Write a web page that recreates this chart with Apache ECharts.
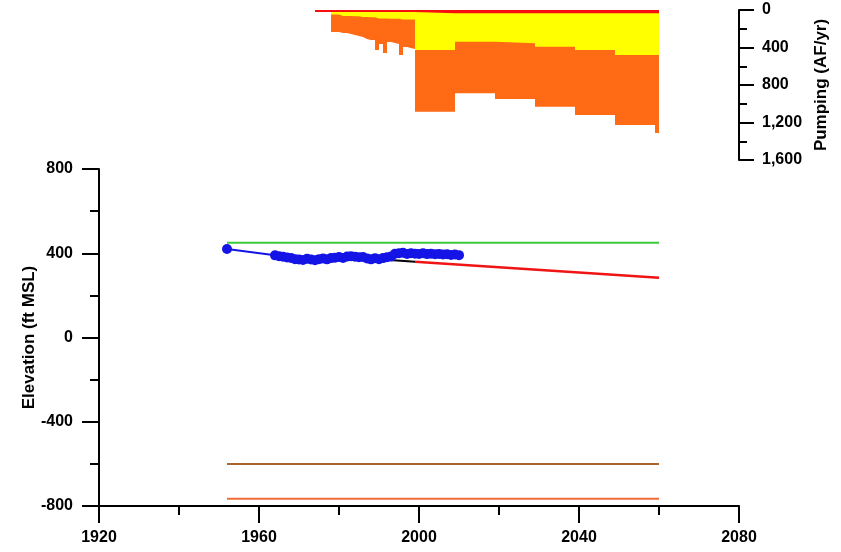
<!DOCTYPE html>
<html>
<head>
<meta charset="utf-8">
<script src="https://cdn.jsdelivr.net/npm/echarts@6/dist/echarts.min.js"></script>
<style>
html,body{margin:0;padding:0;background:#fff;}
#chart{width:841px;height:552px;}
</style>
</head>
<body>
<div id="chart"></div>
<script>
// ---- Pumping (AF/yr), step values starting at each year ----
const pumpYears = [1974,1975,1976,1977,1978,1979,1980,1981,1982,1983,1984,1985,1986,1987,1988,1989,1990,1991,1992,1993,1994,1995,1996,1997,1998,1999,2009,2019,2029,2039,2049,2059,2060];
const pumpRed    = [20,20,20,20,20,20,20,20,20,20,20,20,20,20,20,20,20,20,20,20,20,20,20,20,20,35,35,35,35,35,35,35,35];
const pumpYellow = [0,0,0,0,28,28,44,44,44,46,46,55,55,56,56,70,70,70,72,72,72,80,80,82,82,392,303,320,356,392,445,445,445];
const pumpOrange = [0,0,0,0,187,187,181,181,192,201,211,213,234,244,244,337,273,369,249,260,271,380,295,303,314,658,551,594,640,693,747,832,832];

// ---- Water level observations (ft MSL) ----
const obsYears  = [1952,1964,1965,1966,1967,1968,1969,1970,1971,1972,1973,1974,1975,1976,1977,1978,1979,1980,1981,1982,1983,1984,1985,1986,1987,1988,1989,1990,1991,1992,1993,1994,1995,1996,1997,1998,1999,2000,2001,2002,2003,2004,2005,2006,2007,2008,2009,2010];
const obsValues = [420,390,386,383,380,378,372,370,368,374,370,367,372,375,371,377,379,382,378,384,386,383,381,382,375,371,376,372,377,381,384,398,400,402,397,400,398,397,400,396,398,395,397,394,395,392,394,391];

// ---- Simulated / reference lines ----
const simHistYears = [1990,1999];
const simHistValues = [372,360];
const projYears = [1999,2060];
const projValues = [360,284];
const greenYears = [1952,2060];
const greenValues = [450,450];
const brownYears = [1952,2060];
const brownValues = [-600,-600];
const bottomYears = [1952,2060];
const bottomValues = [-765,-765];

function pairs(xs, ys){ return xs.map((x,i)=>[x, ys[i]]); }

const cumRed = pumpRed.slice();
const cumYellow = pumpRed.map((v,i)=>v + pumpYellow[i]);
const cumOrange = pumpRed.map((v,i)=>v + pumpYellow[i] + pumpOrange[i]);

const FONT = "'Liberation Sans', Arial, sans-serif";
const lblStyle = {color:'#000', fontFamily:FONT, fontWeight:'bold', fontSize:16};
const nameStyle = {color:'#000', fontFamily:FONT, fontWeight:'bold', fontSize:17};
const axLine = {show:true, onZero:false, lineStyle:{color:'#000', width:2}};

const chart = echarts.init(document.getElementById('chart'));
chart.setOption({
  animation:false,
  backgroundColor:'#fff',
  grid:[
    {left:99, right:102, top:169, bottom:46},
    {left:99, right:102, top:10, height:150}
  ],
  xAxis:[
    {gridIndex:0, type:'value', min:1920, max:2080, interval:40,
     axisLine:axLine,
     axisTick:{show:true, length:17, lineStyle:{color:'#000', width:2}},
     minorTick:{show:true, splitNumber:2, length:9, lineStyle:{color:'#000', width:2}},
     splitLine:{show:false},
     axisLabel:Object.assign({margin:24, formatter:v=>String(v)}, lblStyle)},
    {gridIndex:1, type:'value', min:1920, max:2080, show:false}
  ],
  yAxis:[
    {gridIndex:0, type:'value', min:-800, max:800, interval:400,
     axisLine:axLine,
     axisTick:{show:true, length:17, lineStyle:{color:'#000', width:2}},
     minorTick:{show:true, splitNumber:2, length:9, lineStyle:{color:'#000', width:2}},
     splitLine:{show:false},
     axisLabel:Object.assign({margin:26}, lblStyle),
     name:'Elevation (ft MSL)', nameLocation:'middle', nameGap:61, nameMoveOverlap:false,
     nameTextStyle:nameStyle},
    {gridIndex:1, type:'value', position:'right', inverse:true, min:0, max:1600, interval:400,
     axisLine:axLine,
     axisTick:{show:true, length:15, lineStyle:{color:'#000', width:2}},
     minorTick:{show:true, splitNumber:2, length:8, lineStyle:{color:'#000', width:2}},
     splitLine:{show:false},
     axisLabel:Object.assign({margin:23, formatter:v=>v.toLocaleString('en-US')}, lblStyle),
     name:'Pumping (AF/yr)', nameLocation:'middle', nameGap:74, nameMoveOverlap:false,
     nameTextStyle:nameStyle}
  ],
  series:[
    {type:'line', xAxisIndex:1, yAxisIndex:1, step:'end', data:pairs(pumpYears,cumOrange),
     showSymbol:false, symbol:'none', lineStyle:{width:0}, areaStyle:{color:'#FF6A14', opacity:1}, z:1},
    {type:'line', xAxisIndex:1, yAxisIndex:1, step:'end', data:pairs(pumpYears,cumYellow),
     showSymbol:false, symbol:'none', lineStyle:{width:0}, areaStyle:{color:'#FFFF00', opacity:1}, z:2},
    {type:'line', xAxisIndex:1, yAxisIndex:1, step:'end', data:pairs(pumpYears,cumRed),
     showSymbol:false, symbol:'none', lineStyle:{width:0}, areaStyle:{color:'#F50F0F', opacity:1}, z:3},

    {type:'line', data:pairs(greenYears,greenValues), symbol:'none', lineStyle:{color:'#3CCB3C', width:2}, z:2},
    {type:'line', data:pairs(brownYears,brownValues), symbol:'none', lineStyle:{color:'#A8642C', width:2}, z:2},
    {type:'line', data:pairs(bottomYears,bottomValues), symbol:'none', lineStyle:{color:'#F06A3A', width:2}, z:2},
    {type:'line', data:pairs(simHistYears,simHistValues), symbol:'none', lineStyle:{color:'#000', width:2}, z:3},
    {type:'line', data:pairs(projYears,projValues), symbol:'none', lineStyle:{color:'#F01414', width:2.5}, z:3},
    {type:'line', data:pairs(obsYears,obsValues), symbol:'circle', symbolSize:10, showSymbol:true,
     itemStyle:{color:'#1414E6'}, lineStyle:{color:'#1414E6', width:2}, z:5}
  ]
});
</script>
</body>
</html>
